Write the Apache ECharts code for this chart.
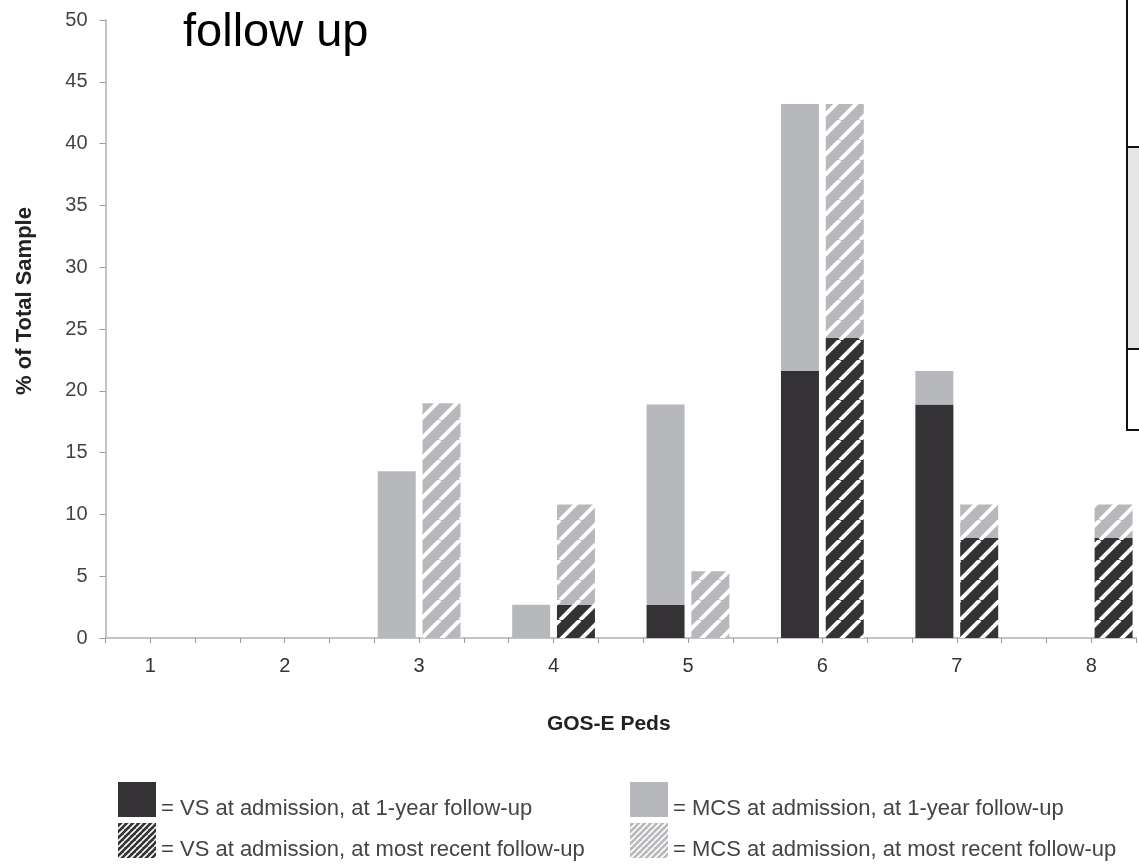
<!DOCTYPE html>
<html>
<head>
<meta charset="utf-8">
<script src="https://cdn.jsdelivr.net/npm/echarts@6/dist/echarts.min.js"></script>
<style>
html,body{margin:0;padding:0;background:#fff;}
#chart{width:1139px;height:864px;}
</style>
</head>
<body>
<div id="chart"></div>
<script>
// ---- data ----
const categories = ['1', '2', '3', '4', '5', '6', '7', '8'];
const vsOneYear  = [0, 0, 0,    0,   2.7, 21.6, 18.9, 0];
const mcsOneYear = [0, 0, 13.5, 2.7, 16.2, 21.6, 2.7, 0];
const vsRecent   = [0, 0, 0,    2.7, 0,    24.3, 8.1, 8.1];
const mcsRecent  = [0, 0, 19.0, 8.1, 5.4,  18.9, 2.7, 2.7];
const yTicks = [0, 5, 10, 15, 20, 25, 30, 35, 40, 45, 50];
const seriesNames = [
  'VS at admission, at 1-year follow-up',
  'MCS at admission, at 1-year follow-up',
  'VS at admission, at most recent follow-up',
  'MCS at admission, at most recent follow-up'
];

const DARK = '#343235';
const LIGHT = '#b7b8bb';
const FONT = 'Liberation Sans, Arial, sans-serif';

function hatch(bg, size, lw) {
  const c = document.createElement('canvas');
  c.width = size; c.height = size;
  const ctx = c.getContext('2d');
  ctx.fillStyle = bg; ctx.fillRect(0, 0, size, size);
  ctx.strokeStyle = '#ffffff'; ctx.lineWidth = lw;
  ctx.beginPath();
  for (let k = -1; k <= 1; k++) { ctx.moveTo(k * size, size); ctx.lineTo(k * size + size, 0); }
  ctx.stroke();
  return { image: c, repeat: 'repeat' };
}
const darkHatch = hatch(DARK, 20, 4);
const lightHatch = hatch(LIGHT, 20, 4);
const darkHatchFine = hatch(DARK, 6, 1.6);
const lightHatchFine = hatch(LIGHT, 6, 1.6);

// Each GOS-E category spans 3 slots of the hidden band axis:
// slot 3c-3 = 1-year bar, slot 3c-2 = most recent bar, slot 3c-1 = gap.
const NSLOT = 3 * categories.length - 1;
const slots = Array.from({ length: NSLOT }, (_, i) => String(i));
function toSlots(arr, off) {
  const out = new Array(NSLOT).fill(null);
  categories.forEach((c, i) => { out[3 * Number(c) - 3 + off] = arr[i]; });
  return out;
}

const chart = echarts.init(document.getElementById('chart'), null, { renderer: 'canvas' });
const barCommon = { type: 'bar', xAxisIndex: 0, barWidth: 38, barGap: '-100%', animation: false };

function legendAt(left, top, name, color) {
  return {
    orient: 'horizontal', left: left, top: top, itemWidth: 38, itemHeight: 35,
    icon: 'rect', selectedMode: false, padding: 0,
    formatter: n => '\n= ' + n,
    textStyle: { fontFamily: FONT, fontSize: 22, color: '#444', lineHeight: 19 },
    data: [{ name: name, itemStyle: { color: color } }]
  };
}

chart.setOption({
  animation: false,
  backgroundColor: '#ffffff',
  title: {
    text: 'follow up', left: 183, top: 10, padding: 0,
    textStyle: { fontFamily: FONT, fontSize: 47, fontWeight: 'normal', color: '#000' }
  },
  grid: { left: 105.5, top: 20, width: 1043.3, height: 618, containLabel: false },
  xAxis: [
    {
      type: 'category', data: slots, boundaryGap: true, show: false
    },
    {
      type: 'value', min: 2, max: 25, interval: 1, position: 'bottom',
      name: 'GOS-E Peds', nameLocation: 'middle', nameGap: 76,
      nameTextStyle: { fontFamily: FONT, fontSize: 21, fontWeight: 'bold', color: '#222', padding: [0, 24, 0, 0] },
      axisLine: { show: true, onZero: false, lineStyle: { color: '#c3c3c3', width: 2 } },
      axisTick: { show: true, length: 5, lineStyle: { color: '#9a9a9a', width: 1 } },
      axisLabel: {
        fontFamily: FONT, fontSize: 20, color: '#333', margin: 18,
        formatter: v => (v % 3 === 0 ? categories[v / 3 - 1] || '' : '')
      },
      splitLine: { show: false }
    }
  ],
  yAxis: {
    type: 'value', min: yTicks[0], max: yTicks[yTicks.length - 1], interval: yTicks[1] - yTicks[0],
    name: '% of Total Sample', nameLocation: 'middle', nameGap: 70,
    nameTextStyle: { fontFamily: FONT, fontSize: 22, fontWeight: 'bold', color: '#222', padding: [0, 0, 0, 56] },
    axisLine: { show: true, lineStyle: { color: '#c3c3c3', width: 2 } },
    axisTick: { show: true, inside: false, length: 6, lineStyle: { color: '#9a9a9a', width: 1 } },
    axisLabel: { fontFamily: FONT, fontSize: 20, color: '#444', margin: 18 },
    splitLine: { show: false }
  },
  legend: [
    legendAt(118, 779, seriesNames[0], DARK),
    legendAt(118, 820, seriesNames[2], darkHatchFine),
    legendAt(630, 779, seriesNames[1], LIGHT),
    legendAt(630, 820, seriesNames[3], lightHatchFine)
  ],
  graphic: [
    { type: 'rect', shape: { x: 1128, y: 148, width: 20, height: 201 }, style: { fill: '#e6e6e6' }, silent: true },
    { type: 'line', shape: { x1: 1127, y1: 0, x2: 1127, y2: 431 }, style: { stroke: '#111', lineWidth: 2 }, silent: true },
    { type: 'line', shape: { x1: 1127, y1: 147, x2: 1145, y2: 147 }, style: { stroke: '#111', lineWidth: 2 }, silent: true },
    { type: 'line', shape: { x1: 1127, y1: 349, x2: 1145, y2: 349 }, style: { stroke: '#111', lineWidth: 2 }, silent: true },
    { type: 'line', shape: { x1: 1127, y1: 430, x2: 1145, y2: 430 }, style: { stroke: '#111', lineWidth: 2 }, silent: true }
  ],
  series: [
    Object.assign({}, barCommon, { name: seriesNames[0], stack: 'oneYear', itemStyle: { color: DARK }, data: toSlots(vsOneYear, 0) }),
    Object.assign({}, barCommon, { name: seriesNames[1], stack: 'oneYear', itemStyle: { color: LIGHT }, data: toSlots(mcsOneYear, 0) }),
    Object.assign({}, barCommon, { name: seriesNames[2], stack: 'recent', itemStyle: { color: darkHatch }, data: toSlots(vsRecent, 1) }),
    Object.assign({}, barCommon, { name: seriesNames[3], stack: 'recent', itemStyle: { color: lightHatch }, data: toSlots(mcsRecent, 1) })
  ]
});
</script>
</body>
</html>
